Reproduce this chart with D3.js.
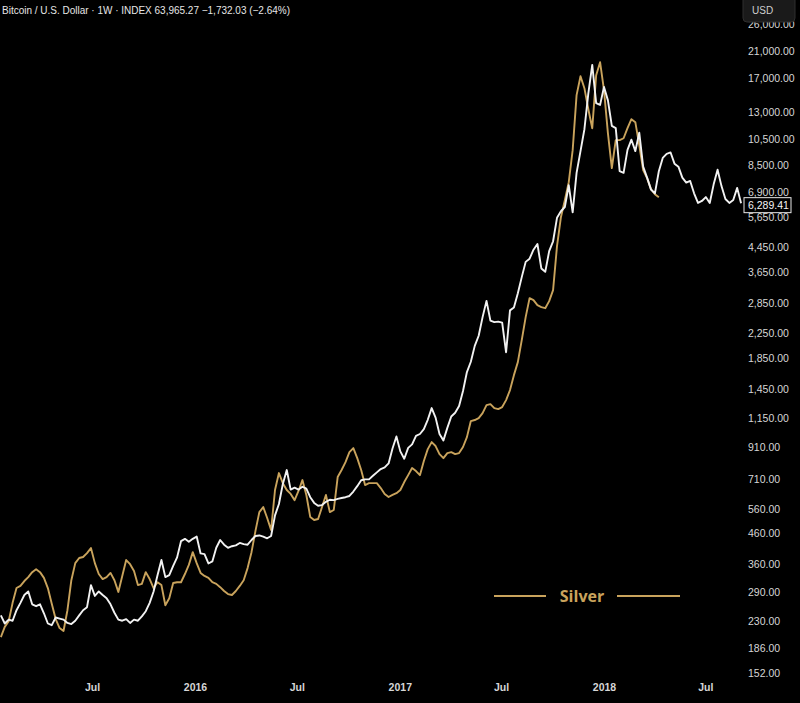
<!DOCTYPE html>
<html>
<head>
<meta charset="utf-8">
<script src="https://cdn.jsdelivr.net/npm/d3@7/dist/d3.min.js"></script>
<style>
  body { margin: 0; background: #000; overflow: hidden; }
  svg { display: block; }
</style>
</head>
<body>
<div id="chart"></div>
<script>
// weekly candles, first week starting Mon 19 Jan 2015
const firstWeek = "2015-01-19";

// Bitcoin weekly close (white line)
const btcClose = [
  240, 225, 232, 230, 250, 265, 282, 290, 262, 258,
  262, 244, 225, 222, 236, 234, 232, 226, 224, 230,
  240, 250, 256, 305, 280, 290, 282, 275, 262, 245,
  232, 230, 233, 226, 232, 230, 238, 248, 265, 290,
  330, 372, 325, 330, 355, 380, 432, 440, 430, 440,
  448, 392, 390, 362, 368, 410, 436, 420, 410, 415,
  418, 426, 422, 420, 436, 450, 452, 448, 442, 450,
  530, 580, 680, 759, 650, 660, 650, 665, 655, 612,
  585, 572, 575, 590, 600, 598, 604, 608, 612, 618,
  640, 668, 700, 705, 705, 725, 745, 765, 775, 800,
  900, 990, 880, 830, 905, 930, 995, 1010, 1050, 1130,
  1240, 1150, 1010, 960, 1060, 1160, 1195, 1260, 1420, 1650,
  1790, 2030, 2200, 2550, 2900, 2480, 2450, 2460, 2440, 1930,
  2690, 2750, 3080, 3500, 3950, 4050, 4350, 4550, 3750, 3650,
  4300, 4650, 5600, 5900, 6100, 7250, 5850, 8000, 9500, 11300,
  15000, 18800, 13900, 13700, 15800, 14200, 11600, 11400, 8100, 8000,
  9600, 10400, 9500, 11000, 8400, 7700, 7000, 6800, 8100, 9000,
  9300, 9400, 8600, 8400, 7700, 7400, 7500, 6800, 6300, 6400,
  6600, 6300, 7300, 8200, 7200, 6500, 6300, 6450, 7100, 6289.41
];

// Silver overlay, scaled to the BTC price axis (gold line)
const silverScaled = [
  202, 219, 229, 265, 298, 303, 315, 325, 338, 346,
  338, 323, 298, 263, 233, 217, 212, 250, 317, 363,
  378, 381, 393, 409, 363, 333, 320, 325, 336, 317,
  289, 328, 372, 360, 341, 305, 308, 338, 320, 298,
  312, 305, 260, 275, 310, 312, 312, 333, 358, 396,
  363, 336, 328, 323, 312, 308, 300, 291, 284, 282,
  291, 303, 317, 349, 396, 468, 544, 566, 519, 472,
  648, 741, 684, 648, 628, 598, 643, 701, 623, 523,
  511, 515, 566, 623, 544, 553, 718, 759, 808, 875,
  903, 834, 759, 674, 684, 684, 684, 658, 628, 613,
  623, 632, 648, 690, 729, 771, 753, 729, 815, 896,
  947, 918, 861, 834, 868, 875, 861, 868, 911, 985,
  1119, 1128, 1146, 1192, 1270, 1280, 1240, 1230, 1250, 1321,
  1430, 1610, 1785, 2125, 2550, 2964, 2917, 2803, 2759, 2737,
  2894, 3158, 4474, 5629, 6443, 7427, 9574, 14800, 17200, 15640,
  13240, 11390, 17340, 19220, 15400, 10950, 8300, 10363, 10363, 10520,
  11390, 12240, 11950, 9960, 8171, 7670, 7030, 6752, 6593
];

const priceTicks = [152, 186, 230, 290, 360, 460, 560, 710, 910, 1150, 1450,
  1850, 2250, 2850, 3650, 4450, 5650, 6900, 8500, 10500, 13000, 17000, 21000, 26000];

const timeTicks = ["2015-07-01", "2016-01-01", "2016-07-01", "2017-01-01",
  "2017-07-01", "2018-01-01", "2018-07-01"];
const timeTickLabels = ["Jul", "2016", "Jul", "2017", "Jul", "2018", "Jul"];

const titleText = "Bitcoin / U.S. Dollar · 1W · INDEX  63,965.27  −1,732.03 (−2.64%)";
const legendLabel = "Silver";

const width = 800, height = 703;
const gold = "#c9a35c", white = "#f2f2f2", axisText = "#d6d6d6";
const font = "'Liberation Sans', Arial, sans-serif";

const t0 = d3.utcParse("%Y-%m-%d")(firstWeek);
const weekDate = i => d3.utcDay.offset(t0, 7 * i);
const btc = btcClose.map((v, i) => ({ date: weekDate(i), value: v }));
const silver = silverScaled.map((v, i) => ({ date: weekDate(i), value: v }));

const svg = d3.select("#chart").append("svg")
  .attr("width", width)
  .attr("height", height)
  .style("background", "#000");

const x = d3.scaleUtc()
  .domain([new Date(Date.UTC(2016, 0, 1)), new Date(Date.UTC(2018, 0, 1))])
  .range([195, 604]);

const y = d3.scaleLog()
  .domain([152, 21000])
  .range([673, 51]);

const line = d3.line()
  .x(d => x(d.date))
  .y(d => y(d.value))
  .curve(d3.curveLinear);

let plot = svg.append("g").attr("class", "plot");

plot.append("path")
  .datum(silver)
  .attr("fill", "none")
  .attr("stroke", gold)
  .attr("stroke-width", 1.9)
  .attr("stroke-linejoin", "round")
  .attr("d", line);

plot.append("path")
  .datum(btc)
  .attr("fill", "none")
  .attr("stroke", white)
  .attr("stroke-width", 1.9)
  .attr("stroke-linejoin", "round")
  .attr("d", line);

// price scale on the right
let yAxis = svg.append("g")
  .attr("transform", "translate(748,0)")
  .call(d3.axisRight(y)
    .tickValues(priceTicks)
    .tickSize(0)
    .tickPadding(0)
    .tickFormat(d3.format(",.2f")));
yAxis.select(".domain").remove();
yAxis.selectAll("text")
  .attr("fill", axisText)
  .attr("font-family", font)
  .attr("font-size", 10.5)
  .attr("dy", "0.35em");

// time scale at the bottom
const fmtLabel = d3.scaleOrdinal().domain(timeTicks).range(timeTickLabels);
const parse = d3.utcParse("%Y-%m-%d");
let xAxis = svg.append("g")
  .attr("transform", "translate(0,684)")
  .call(d3.axisBottom(x)
    .tickValues(timeTicks.map(parse))
    .tickSize(0)
    .tickPadding(0)
    .tickFormat(d => fmtLabel(d3.utcFormat("%Y-%m-%d")(d))));
xAxis.select(".domain").remove();
xAxis.selectAll("text")
  .attr("fill", axisText)
  .attr("font-family", font)
  .attr("font-size", 10.5)
  .attr("font-weight", "bold");

// last price label
const last = btc[btc.length - 1];
const lastG = svg.append("g")
  .attr("transform", `translate(744,${y(last.value) + 2})`);
lastG.append("rect")
  .attr("x", 0).attr("y", -7.5)
  .attr("width", 47).attr("height", 15)
  .attr("fill", "#000")
  .attr("stroke", "#e8e8e8")
  .attr("stroke-width", 1);
lastG.append("text")
  .attr("x", 4).attr("y", 0)
  .attr("dy", "0.35em")
  .attr("fill", "#f4f4f4")
  .attr("font-family", font)
  .attr("font-size", 10.5)
  .text(d3.format(",.2f")(last.value));

// USD button (covers the top half of the highest price label)
const usd = svg.append("g").attr("transform", "translate(743,0)");
usd.append("rect")
  .attr("x", 0).attr("y", -4)
  .attr("width", 52).attr("height", 26)
  .attr("rx", 4)
  .attr("fill", "#1a1a1a")
  .attr("stroke", "#2e2e2e");
usd.append("text")
  .attr("x", 9).attr("y", 10)
  .attr("dy", "0.35em")
  .attr("fill", "#cfcfcf")
  .attr("font-family", font)
  .attr("font-size", 10)
  .text("USD");

// title
svg.append("text")
  .attr("x", 2).attr("y", 10)
  .attr("dy", "0.35em")
  .attr("fill", "#e6e6e6")
  .attr("font-family", font)
  .attr("font-size", 10.5)
  .attr("textLength", 288)
  .attr("lengthAdjust", "spacingAndGlyphs")
  .text(titleText);

// legend
const leg = svg.append("g").attr("transform", "translate(0,596)");
leg.append("line")
  .attr("x1", 494).attr("x2", 546)
  .attr("stroke", gold).attr("stroke-width", 2);
leg.append("line")
  .attr("x1", 617).attr("x2", 680)
  .attr("stroke", gold).attr("stroke-width", 2);
leg.append("text")
  .attr("x", 582).attr("y", 0)
  .attr("dy", "0.35em")
  .attr("text-anchor", "middle")
  .attr("fill", gold)
  .attr("font-family", "'Open Sans', 'Noto Sans', sans-serif")
  .attr("font-weight", "bold")
  .attr("font-size", 16)
  .text(legendLabel);
</script>
</body>
</html>
